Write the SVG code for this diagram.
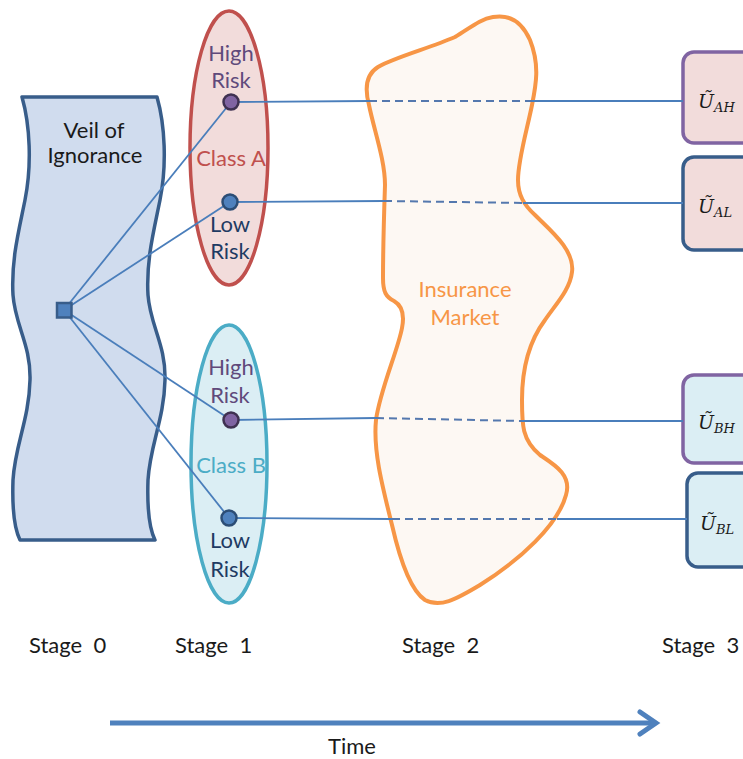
<svg xmlns="http://www.w3.org/2000/svg" width="743" height="759" viewBox="0 0 743 759">
<style>
  text { font-family: Lato, "Open Sans", "Liberation Sans", sans-serif; font-size: 22px; text-anchor: middle; }
  .conn { stroke: #4a7ebb; stroke-width: 1.8; fill: none; }
  .dash { stroke: #5478ae; stroke-width: 2; fill: none; stroke-dasharray: 8 5; }
  .hi { fill: #8064a2; stroke: #3f3151; stroke-width: 2.5; }
  .lo { fill: #4f81bd; stroke: #2c4d75; stroke-width: 2.5; }
  .tHi { fill: #604a7b; }
  .tLo { fill: #1f3b63; }
  .ubox { stroke-width: 3.5; }
  .u { font-family: "DejaVu Serif", "Liberation Serif", serif; font-style: italic; font-size: 19px; text-anchor: start; fill: #1a1a1a; }
  .sub { font-size: 13px; }
  .stage { text-anchor: start; fill: #1a1a1a; }
</style>
<rect width="743" height="759" fill="#ffffff"/>

<g id="veil">
  <path d="M22,97 L157,97 C165,125 167,165 160,200 C154,230 146,260 148,295 C150,325 166,345 165,380 C164,420 150,445 148,480 C147,510 150,530 155,540 L20,540 C15,530 12,510 13,480 C15,445 29,420 30,380 C31,345 15,325 13,295 C11,260 19,230 25,200 C32,165 30,125 22,97 Z" fill="#d0dcee" stroke="#385d8a" stroke-width="3.5" stroke-linejoin="round"/>
  <text x="94" y="138" fill="#1a1a1a">Veil of</text>
  <text x="95" y="163" fill="#1a1a1a">Ignorance</text>
</g>

<g id="classA">
  <ellipse cx="229" cy="148" rx="39" ry="137" fill="#f2dcdb" stroke="#c0504d" stroke-width="3.5"/>
  <text x="231" y="61" class="tHi">High</text>
  <text x="231" y="88" class="tHi">Risk</text>
  <text x="231" y="166" fill="#c0504d">Class A</text>
  <text x="230" y="232" class="tLo">Low</text>
  <text x="230" y="259" class="tLo">Risk</text>
</g>

<g id="classB">
  <ellipse cx="229" cy="464" rx="38" ry="139" fill="#dbeef4" stroke="#4bacc6" stroke-width="3.5"/>
  <text x="231" y="375" class="tHi">High</text>
  <text x="230" y="403" class="tHi">Risk</text>
  <text x="231" y="473" fill="#4bacc6">Class B</text>
  <text x="230" y="548" class="tLo">Low</text>
  <text x="230" y="577" class="tLo">Risk</text>
</g>

<g id="market">
  <path d="M493,17 C510,14 522,22 530,40 C540,65 536,85 532,105 C527,130 518,160 518,180 C518,195 524,205 535,215 C550,230 575,250 572,272 C570,290 555,305 545,320 C530,340 522,365 522,400 C522,425 522,440 540,455 C555,465 572,475 566,495 C558,525 520,560 480,585 C455,600 440,608 425,600 C410,590 400,560 392,525 C382,485 373,450 376,420 C380,390 398,350 402,328 C405,313 401,305 394,301 C386,297 383,292 383,278 C383,245 384,215 385,185 C385,160 374,130 369,105 C365,90 365,75 378,67 C395,57 430,48 455,37 C470,28 480,19 493,17 Z" fill="#fdf8f3" stroke="#f79646" stroke-width="4" stroke-linejoin="round"/>
  <text x="465" y="297" fill="#f79646">Insurance</text>
  <text x="465" y="325" fill="#f79646">Market</text>
</g>

<g id="uAH">
  <rect x="683" y="52" width="80" height="91" rx="11" fill="#f2dcdb" stroke="#8064a2" class="ubox"/>
  <text x="698" y="108" class="u">Ũ<tspan class="sub" dy="4">AH</tspan></text>
</g>
<g id="uAL">
  <rect x="683" y="157" width="80" height="93" rx="11" fill="#f2dcdb" stroke="#385d8a" class="ubox"/>
  <text x="698" y="213" class="u">Ũ<tspan class="sub" dy="4">AL</tspan></text>
</g>
<g id="uBH">
  <rect x="683" y="375" width="80" height="88" rx="11" fill="#dbeef4" stroke="#8064a2" class="ubox"/>
  <text x="698" y="429" class="u">Ũ<tspan class="sub" dy="4">BH</tspan></text>
</g>
<g id="uBL">
  <rect x="687" y="473" width="80" height="94" rx="11" fill="#dbeef4" stroke="#385d8a" class="ubox"/>
  <text x="700" y="530" class="u">Ũ<tspan class="sub" dy="4">BL</tspan></text>
</g>

<g id="connectors">
  <line class="conn" x1="64" y1="310" x2="231" y2="102"/>
  <line class="conn" x1="64" y1="310" x2="230" y2="202"/>
  <line class="conn" x1="64" y1="310" x2="231" y2="420"/>
  <line class="conn" x1="64" y1="310" x2="229" y2="518"/>

  <line class="conn" x1="231" y1="102" x2="369" y2="101"/>
  <line class="dash" x1="369" y1="101" x2="532" y2="101"/>
  <line class="conn" x1="532" y1="101" x2="683" y2="101"/>

  <line class="conn" x1="230" y1="202" x2="384" y2="201"/>
  <line class="dash" x1="384" y1="201" x2="523" y2="203"/>
  <line class="conn" x1="523" y1="203" x2="683" y2="203"/>

  <line class="conn" x1="231" y1="420" x2="376" y2="418"/>
  <line class="dash" x1="376" y1="418" x2="522" y2="421"/>
  <line class="conn" x1="522" y1="421" x2="683" y2="421"/>

  <line class="conn" x1="229" y1="518" x2="392" y2="519"/>
  <line class="dash" x1="392" y1="519" x2="557" y2="519"/>
  <line class="conn" x1="557" y1="519" x2="687" y2="519"/>
</g>

<g id="dots">
  <circle id="dotAH" cx="231" cy="102" r="7.5" class="hi"/>
  <circle id="dotAL" cx="230" cy="202" r="7.5" class="lo"/>
  <circle id="dotBH" cx="231" cy="420" r="7.5" class="hi"/>
  <circle id="dotBL" cx="229" cy="518" r="7.5" class="lo"/>
</g>

<g id="origin">
  <rect x="57" y="303" width="14.5" height="14.5" fill="#4f81bd" stroke="#385d8a" stroke-width="2.5"/>
</g>

<g id="stages">
  <text x="29" y="653" class="stage" xml:space="preserve">Stage  0</text>
  <text x="175" y="653" class="stage" xml:space="preserve">Stage  1</text>
  <text x="402" y="653" class="stage" xml:space="preserve">Stage  2</text>
  <text x="662" y="653" class="stage" xml:space="preserve">Stage  3</text>
</g>

<g id="time">
  <line x1="110" y1="723" x2="654" y2="723" stroke="#4f81bd" stroke-width="5"/>
  <path d="M640,712 L656,723 L640,734" fill="none" stroke="#4f81bd" stroke-width="5" stroke-linecap="round" stroke-linejoin="miter"/>
  <text x="352" y="754" fill="#1a1a1a">Time</text>
</g>
</svg>
